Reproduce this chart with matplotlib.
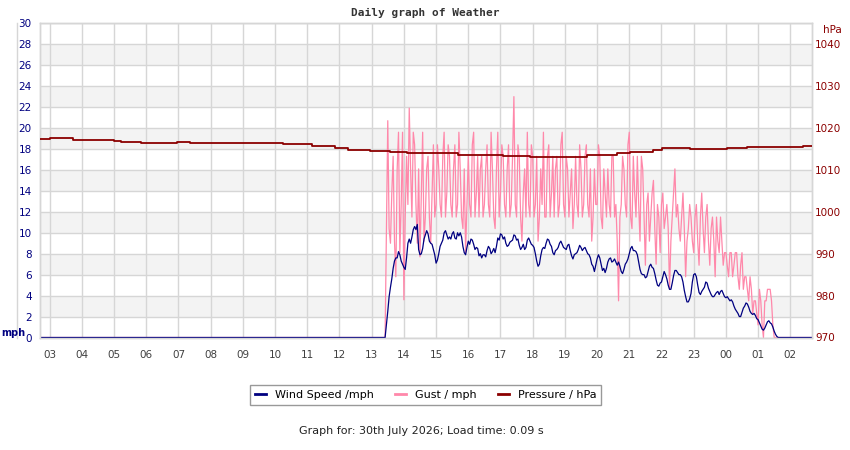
import matplotlib
matplotlib.use("Agg")
import matplotlib.pyplot as plt
from matplotlib.lines import Line2D

# --- data ------------------------------------------------------------------
window_start = "02:42"
window_end = "02:41"          # next day
hour_ticks = [3, 4, 5, 6, 7, 8, 9, 10, 11, 12, 13, 14, 15, 16, 17, 18, 19,
              20, 21, 22, 23, 24, 25, 26]

# wind / gust read every 5 minutes from 13:30 to 01:40 (on the :x0 / :x5 marks),
# plus readings taken halfway between them; zero outside that stretch
sample_start = "13:30"
sample_step_min = 5
wind = [
    2.5, 4.8, 6.6, 7.6, 8.2, 7.3, 6.7, 7.6, 9.4, 9.6,
    10.6, 10.8, 7.9, 8.5, 9.8, 9.9, 9.0, 8.4, 7.1, 8.0,
    9.0, 10.0, 9.8, 9.6, 9.9, 9.5, 10.0, 10.0, 8.7, 7.9,
    9.2, 9.4, 8.9, 8.6, 7.8, 7.6, 7.9, 8.3, 8.5, 8.2,
    8.1, 9.5, 9.9, 9.4, 9.0, 8.8, 9.2, 9.8, 9.3, 8.8,
    8.6, 8.4, 9.3, 9.2, 8.8, 8.0, 6.8, 7.8, 8.6, 9.0,
    9.3, 8.7, 7.9, 8.4, 9.0, 8.9, 8.5, 8.8, 8.3, 7.5,
    8.0, 8.4, 8.6, 8.5, 8.3, 7.9, 7.0, 6.3, 7.5, 7.6,
    6.4, 6.2, 7.2, 7.6, 7.3, 7.2, 7.2, 6.3, 6.5, 7.2,
    8.0, 8.7, 8.3, 7.9, 6.5, 6.0, 5.7, 6.3, 7.0, 6.6,
    5.5, 4.9, 5.3, 6.3, 5.6, 4.6, 5.2, 6.4, 6.2, 6.0,
    5.3, 3.9, 3.4, 4.2, 6.0, 5.8, 4.3, 4.4, 4.8, 5.2,
    4.4, 3.9, 4.1, 4.4, 4.4, 4.2, 3.8, 3.7, 3.6, 3.0,
    2.5, 2.0, 2.4, 3.0, 3.2, 2.5, 2.2, 2.1, 1.7, 1.1,
    0.7, 1.2, 1.6, 1.3, 0.6, 0.1, 0.0,
]
wind_mid = [
    3.9, 5.6, 7.3, 7.6, 7.9, 7.0, 6.5, 9.0, 9.0, 10.3,
    10.3, 8.4, 8.0, 9.4, 10.2, 9.2, 8.9, 7.9, 7.4, 8.7,
    9.3, 10.2, 9.4, 9.4, 10.1, 9.4, 9.7, 9.6, 8.1, 8.6,
    8.9, 9.3, 8.4, 8.5, 8.0, 7.9, 7.7, 8.7, 8.0, 8.5,
    8.7, 9.3, 9.8, 9.6, 8.7, 9.1, 9.3, 9.7, 9.4, 8.4,
    8.9, 8.6, 9.5, 8.9, 8.6, 7.3, 7.0, 8.4, 8.5, 9.4,
    8.9, 8.1, 8.3, 8.6, 9.2, 8.6, 8.4, 8.9, 7.8, 7.9,
    8.1, 8.8, 8.3, 8.6, 8.0, 7.6, 6.8, 6.9, 7.9, 7.0,
    6.6, 6.6, 7.5, 7.2, 7.5, 6.9, 6.8, 6.1, 7.0, 7.5,
    8.5, 8.3, 8.2, 7.2, 6.1, 6.0, 5.8, 6.8, 6.7, 6.1,
    5.0, 5.2, 5.8, 6.0, 5.0, 4.6, 5.9, 6.4, 6.0, 5.8,
    4.5, 3.4, 3.7, 5.3, 6.1, 5.0, 4.1, 4.6, 5.3, 4.7,
    4.1, 3.9, 4.3, 4.1, 4.5, 3.9, 3.9, 3.5, 3.4, 2.7,
    2.3, 2.0, 2.8, 3.3, 2.9, 2.3, 2.3, 1.8, 1.4, 0.8,
    0.9, 1.5, 1.4, 1.0, 0.3, 0.0,
]
gust = [
    20.7, 9.0, 17.3, 5.8, 19.6, 12.7, 3.6, 17.3, 21.9, 11.5,
    18.4, 9.0, 7.7, 19.6, 11.5, 17.3, 9.0, 18.4, 12.7, 16.1,
    11.5, 19.6, 13.8, 17.3, 11.5, 18.4, 12.7, 16.1, 10.4, 8.1,
    17.3, 11.5, 19.6, 13.8, 11.5, 17.3, 12.7, 18.4, 11.5, 16.1,
    10.4, 19.6, 13.8, 17.3, 11.5, 18.4, 12.7, 23.0, 11.5, 17.3,
    9.2, 16.1, 19.6, 11.5, 17.3, 12.7, 9.2, 16.1, 19.6, 11.5,
    18.4, 13.8, 11.5, 17.3, 12.7, 19.6, 11.5, 16.1, 13.8, 10.4,
    17.3, 11.5, 16.1, 12.7, 18.4, 11.5, 9.2, 16.1, 12.7, 17.3,
    10.4, 13.8, 16.1, 11.5, 17.3, 12.7, 3.5, 12.7, 16.1, 11.5,
    19.6, 10.4, 13.8, 17.3, 9.2, 16.1, 6.9, 13.8, 11.5, 15.0,
    7.0, 11.5, 12.7, 10.4, 12.7, 4.6, 11.5, 16.1, 12.7, 9.2,
    13.8, 5.8, 10.4, 11.5, 8.1, 12.7, 6.9, 13.8, 8.1, 12.7,
    6.9, 11.5, 5.8, 9.2, 11.5, 6.9, 8.1, 5.8, 8.1, 6.9,
    8.1, 4.6, 8.1, 5.8, 4.6, 5.8, 2.3, 3.5, 1.2, 3.5,
    0.0, 3.5, 4.6, 3.5, 0.0, 0.0, 0.0,
]
gust_mid = [
    10.4, 13.8, 9.2, 16.1, 8.1, 19.6, 11.5, 12.7, 16.1, 19.6,
    12.7, 16.1, 13.8, 9.2, 16.1, 11.5, 13.8, 11.5, 18.4, 12.7,
    17.3, 11.5, 18.4, 12.7, 16.1, 11.5, 19.6, 11.5, 16.1, 12.7,
    12.7, 18.4, 11.5, 17.3, 16.1, 11.5, 16.1, 12.7, 19.6, 11.5,
    16.1, 11.5, 18.4, 12.7, 16.1, 11.5, 17.3, 12.7, 18.4, 11.5,
    13.8, 11.5, 12.7, 18.4, 11.5, 17.3, 11.5, 12.7, 11.5, 17.3,
    11.5, 17.3, 16.1, 11.5, 18.4, 12.7, 17.3, 11.5, 16.1, 12.7,
    12.7, 18.4, 11.5, 17.3, 12.7, 16.1, 11.5, 12.7, 18.4, 11.5,
    16.1, 11.5, 12.7, 17.3, 11.5, 9.2, 11.5, 17.3, 12.7, 18.4,
    11.5, 17.3, 11.5, 12.7, 17.3, 11.5, 12.7, 9.2, 13.8, 10.4,
    12.7, 8.1, 13.8, 11.5, 10.4, 9.2, 13.8, 11.5, 10.4, 11.5,
    10.4, 9.2, 12.7, 9.2, 11.5, 9.2, 11.5, 10.4, 11.5, 9.2,
    10.4, 9.2, 11.5, 8.1, 9.2, 8.1, 6.9, 8.1, 5.8, 8.1,
    5.8, 6.9, 4.6, 5.8, 3.5, 4.6, 3.5, 2.3, 4.6, 1.2,
    3.5, 4.6, 4.6, 1.2, 0.0, 0.0,
]

pressure_times = ["02:42", "03:01", "03:44", "04:59", "05:13", "05:51", "06:58",
                  "07:22", "08:48", "10:15", "11:09", "11:52", "12:16", "12:57",
                  "13:34", "14:06", "15:41", "17:05", "17:55", "18:51", "19:41",
                  "20:37", "21:01", "21:44", "22:01", "22:53", "00:02", "00:39",
                  "02:23"]
pressure = [1017.3, 1017.7, 1017.2, 1016.9, 1016.7, 1016.5, 1016.7, 1016.5,
            1016.4, 1016.3, 1015.6, 1015.2, 1014.8, 1014.6, 1014.3, 1014.0,
            1013.6, 1013.3, 1013.0, 1013.2, 1013.6, 1014.0, 1014.3, 1014.7,
            1015.2, 1015.1, 1015.3, 1015.4, 1015.6]

c_wind = "#000080"
c_gust = "#ff88aa"
c_pres = "#8b0000"
c_grid = "#d6d6d6"


def hhmm(s):
    h, m = s.split(":")
    return int(h) + int(m) / 60.0


def running_hours(labels):
    # turn "HH:MM" strings into hours, adding 24 once the clock wraps
    out, prev, add = [], -1, 0
    for s in labels:
        v = hhmm(s)
        if v + add < prev:
            add += 24
        out.append(v + add)
        prev = v + add
    return out


def interleave(main, mid):
    out = []
    for i, v in enumerate(main):
        out.append(v)
        if i < len(mid):
            out.append(mid[i])
    return out


t0 = hhmm(window_start)
t1 = hhmm(window_end) + 24
s0 = hhmm(sample_start)
dt = sample_step_min / 60.0 / 2
wind_all = interleave(wind, wind_mid)
gust_all = interleave(gust, gust_mid)
t_samples = [s0 + i * dt for i in range(len(wind_all))]
t_full = [t0, s0 - 2 * dt] + t_samples + [t_samples[-1] + 2 * dt, t1]
wind_full = [0.0, 0.0] + wind_all + [0.0, 0.0]
gust_full = [0.0, 0.0] + gust_all + [0.0, 0.0]

pt = running_hours(pressure_times) + [t1]
pv = pressure + [pressure[-1]]

# --- figure ----------------------------------------------------------------
W, H = 850, 450
fig = plt.figure(figsize=(W / 100, H / 100), dpi=100)
ax = fig.add_axes([40 / W, 1 - 337.5 / H, 772.3 / W, 314.2 / H])

for lo in range(2, 28, 4):
    ax.axhspan(lo, lo + 2, color="#f3f3f3", zorder=0, lw=0)
for y in range(0, 31, 2):
    ax.axhline(y, color=c_grid, lw=1, zorder=0.5)
for h in hour_ticks:
    ax.axvline(h, color=c_grid, lw=1, zorder=0.5)

ax.plot(t_full, gust_full, color=c_gust, lw=0.9, zorder=2)
ax.plot(t_full, wind_full, color=c_wind, lw=0.9, zorder=3)

ax.set_xlim(t0, t1)
ax.set_ylim(0, 30)
ax.set_yticks(range(0, 31, 2))
ax.set_xticks(hour_ticks)
ax.set_xticklabels(["%02d" % (h % 24) for h in hour_ticks])
ax.tick_params(axis="x", length=0, pad=9, labelsize=7.5, labelcolor="#404040")
ax.tick_params(axis="y", length=0, pad=6, labelsize=7.5, labelcolor=c_wind)
for sp in ax.spines.values():
    sp.set_color(c_grid)
    sp.set_linewidth(1)

ax2 = ax.twinx()
ax2.plot(pt, pv, color=c_pres, lw=1.3, drawstyle="steps-post", zorder=4)
ax2.set_ylim(970, 1045)
ax2.set_yticks(range(970, 1041, 10))
ax2.tick_params(axis="y", length=0, pad=2, labelsize=7.5, labelcolor=c_pres)
for sp in ax2.spines.values():
    sp.set_color(c_grid)
    sp.set_linewidth(1)

# thin line left of the mph labels
fig.add_artist(Line2D([17.3 / W, 17.3 / W], [1 - 337.5 / H, 1 - 23.3 / H],
                      transform=fig.transFigure, color=c_grid, lw=1))

fig.text(425.5 / W, 1 - 13 / H, "Daily graph of Weather", ha="center",
         va="center", fontsize=8, fontweight="bold",
         family="DejaVu Sans Mono", color="#333333")
fig.text(1.5 / W, 1 - 336 / H, "mph", ha="left", va="baseline", fontsize=7,
         fontweight="bold", color=c_wind)
fig.text(822.5 / W, 1 - 33 / H, "hPa", ha="left", va="baseline", fontsize=7.5,
         color=c_pres)

handles = [
    Line2D([], [], color=c_wind, lw=2, label="Wind Speed /mph"),
    Line2D([], [], color=c_gust, lw=2, label="Gust / mph"),
    Line2D([], [], color=c_pres, lw=2, label="Pressure / hPa"),
]
leg = fig.legend(handles=handles, loc="center",
                 bbox_to_anchor=(425.8 / W, 1 - 395.3 / H), ncol=3,
                 fontsize=8, frameon=True, fancybox=False, handlelength=1.0,
                 handletextpad=0.8, columnspacing=1.9, borderpad=0.45,
                 borderaxespad=0)
leg.get_frame().set_edgecolor("#808080")
leg.get_frame().set_linewidth(1)

fig.text(421 / W, 1 - 431 / H, "Graph for: 30th July 2026; Load time: 0.09 s",
         ha="center", va="center", fontsize=8, color="#222222")

fig.savefig("out.png", dpi=100)
